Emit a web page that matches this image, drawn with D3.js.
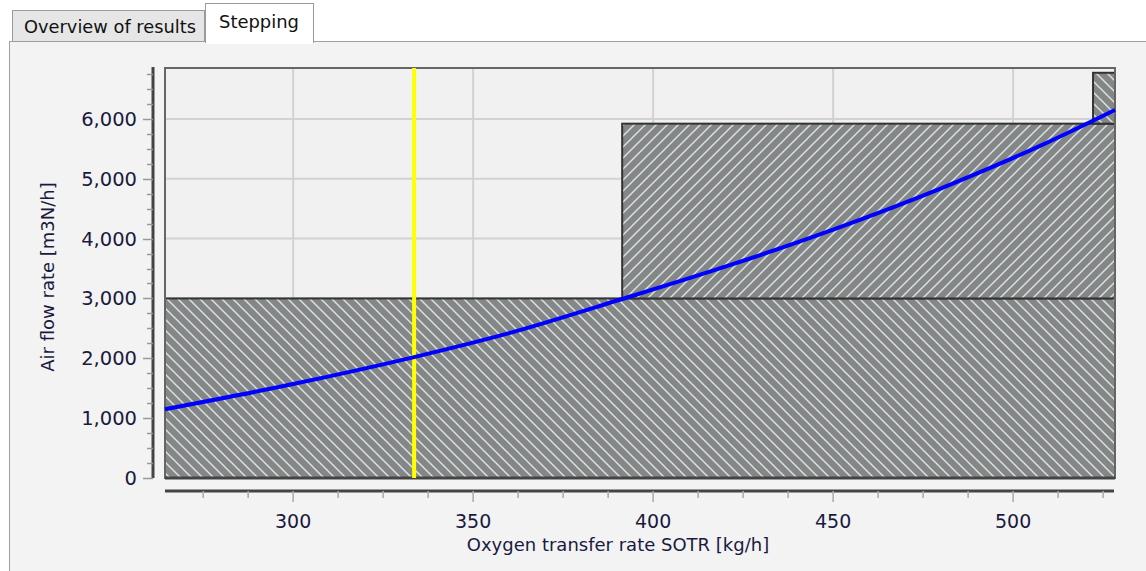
<!DOCTYPE html>
<html><head><meta charset="utf-8">
<script src="https://cdn.jsdelivr.net/npm/d3@7"></script>
<style>
html,body{margin:0;padding:0;background:#fff;}
svg{display:block;font-family:"DejaVu Sans",Verdana,sans-serif;}
</style></head>
<body>
<svg id="c" width="1146" height="571"></svg>
<script>
// ---- data ----
const xTicks = [300, 350, 400, 450, 500];
const yTicks = [0, 1000, 2000, 3000, 4000, 5000, 6000];
const xDomain = [264.4, 528.3];
const yDomain = [0, 6850];
// stepping blocks
const stepStart = [264.4, 391.4, 522.2];
const stepEnd   = [528.3, 528.3, 528.3];
const stepLow   = [0, 3000, 5920];
const stepHigh  = [3000, 5920, 6770];
// air flow curve
const curveX = [264.4, 300, 333.6, 360, 391.4, 420, 450, 480, 507.5, 528.3];
const curveY = [1150, 1570, 2020, 2420, 2990, 3530, 4150, 4840, 5550, 6150];
const markerX = 333.6;
const tabs = ["Overview of results", "Stepping"];
const xLabel = "Oxygen transfer rate SOTR [kg/h]";
const yLabel = "Air flow rate [m3N/h]";

const svg = d3.select("#c");
const L = 165, R = 1115, T = 68, B = 478;
const x = d3.scaleLinear().domain(xDomain).range([L, R]);
const y = d3.scaleLinear().domain(yDomain).range([B, T]);

// tabs & panel
svg.append("rect").attr("x", 9.5).attr("y", 41.5).attr("width", 1140).attr("height", 540)
  .attr("fill", "#f3f3f3").attr("stroke", "#a0a0a0");
svg.append("rect").attr("x", 12.5).attr("y", 10.5).attr("width", 192).attr("height", 31)
  .attr("fill", "#e6e6e6").attr("stroke", "#9a9a9a");
svg.append("rect").attr("x", 205.5).attr("y", 3.5).attr("width", 108).attr("height", 39)
  .attr("fill", "#ffffff").attr("stroke", "#9a9a9a");
svg.append("rect").attr("x", 206).attr("y", 40).attr("width", 107).attr("height", 4).attr("fill", "#fff");
svg.append("text").attr("x", 110).attr("y", 33).attr("text-anchor", "middle")
  .attr("font-size", 18).attr("fill", "#111").attr("textLength", 172).attr("lengthAdjust","spacingAndGlyphs").text(tabs[0]);
svg.append("text").attr("x", 259).attr("y", 28).attr("text-anchor", "middle")
  .attr("font-size", 18).attr("fill", "#111").attr("textLength", 80).attr("lengthAdjust","spacingAndGlyphs").text(tabs[1]);

// hatch patterns (alternating direction)
const defs = svg.append("defs");
const hs = 11;
[["hatchB", `M0,0L${hs},${hs}M${-hs/2},${hs/2}L${hs/2},${hs*1.5}M${hs/2},${-hs/2}L${hs*1.5},${hs/2}`],
 ["hatchF", `M0,${hs}L${hs},0M${-hs/2},${hs/2}L${hs/2},${-hs/2}M${hs/2},${hs*1.5}L${hs*1.5},${hs/2}`]]
.forEach(([id, d]) => {
  const pat = defs.append("pattern").attr("id", id).attr("patternUnits", "userSpaceOnUse")
    .attr("width", hs).attr("height", hs);
  pat.append("rect").attr("width", hs).attr("height", hs).attr("fill", "#868686");
  pat.append("path").attr("d", d).attr("stroke", "#d2e4e4").attr("stroke-width", 1.5);
});

// plot background
svg.append("rect").attr("x", L).attr("y", T).attr("width", R - L).attr("height", B - T).attr("fill", "#f1f1f1");

// grid
svg.append("g").selectAll("line").data(xTicks).join("line")
  .attr("x1", d => x(d)).attr("x2", d => x(d)).attr("y1", T).attr("y2", B)
  .attr("stroke", "#d2d2d2").attr("stroke-width", 2);
svg.append("g").selectAll("line").data(yTicks.filter(d => d > 0)).join("line")
  .attr("x1", L).attr("x2", R).attr("y1", d => y(d)).attr("y2", d => y(d))
  .attr("stroke", "#d2d2d2").attr("stroke-width", 2);

// steps
svg.append("g").selectAll("rect").data(stepStart.map((s, i) => i)).join("rect")
  .attr("x", i => x(stepStart[i])).attr("width", i => x(stepEnd[i]) - x(stepStart[i]))
  .attr("y", i => y(stepHigh[i])).attr("height", i => y(stepLow[i]) - y(stepHigh[i]))
  .attr("fill", i => i % 2 ? "url(#hatchF)" : "url(#hatchB)").attr("stroke", "#333").attr("stroke-width", 2);

// plot border
svg.append("rect").attr("x", L).attr("y", T).attr("width", R - L).attr("height", B - T)
  .attr("fill", "none").attr("stroke", "#666").attr("stroke-width", 2);
svg.append("line").attr("x1", L).attr("x2", R).attr("y1", B).attr("y2", B).attr("stroke", "#444").attr("stroke-width", 3);

// marker line
svg.append("line").attr("x1", x(markerX)).attr("x2", x(markerX)).attr("y1", T).attr("y2", B)
  .attr("stroke", "#ffff00").attr("stroke-width", 4);

// curve
const line = d3.line().x(d => x(d[0])).y(d => y(d[1])).curve(d3.curveMonotoneX);
svg.append("path").datum(curveX.map((v, i) => [v, curveY[i]])).attr("d", line)
  .attr("fill", "none").attr("stroke", "#0000ff").attr("stroke-width", 4);

// y axis
const yAxisX = 153;
svg.append("line").attr("x1", yAxisX).attr("x2", yAxisX).attr("y1", T - 1).attr("y2", B)
  .attr("stroke", "#444").attr("stroke-width", 3);
const yMinor = d3.range(0, 6751, 250);
svg.append("g").selectAll("line").data(yMinor).join("line")
  .attr("x1", d => d % 1000 === 0 ? 143 : 147).attr("x2", yAxisX)
  .attr("y1", d => Math.round(y(d)) + 0.5).attr("y2", d => Math.round(y(d)) + 0.5)
  .attr("stroke", "#999").attr("stroke-width", 1.5);
svg.append("g").selectAll("text").data(yTicks).join("text")
  .attr("x", 137).attr("y", d => y(d) + 7).attr("text-anchor", "end")
  .attr("font-size", 19.5).attr("fill", "#1a1a40").text(d => d3.format(",")(d));

// x axis
const xAxisY = 491;
svg.append("line").attr("x1", L).attr("x2", R - 1).attr("y1", xAxisY).attr("y2", xAxisY)
  .attr("stroke", "#444").attr("stroke-width", 3);
const xMinor = d3.range(275, 528, 12.5);
svg.append("g").selectAll("line").data(xMinor).join("line")
  .attr("x1", d => x(d)).attr("x2", d => x(d))
  .attr("y1", xAxisY).attr("y2", d => d % 50 === 0 ? 502 : 498)
  .attr("stroke", "#aaa").attr("stroke-width", 1.5);
svg.append("g").selectAll("text").data(xTicks).join("text")
  .attr("x", d => x(d)).attr("y", 528).attr("text-anchor", "middle")
  .attr("font-size", 19).attr("fill", "#1a1a40").text(d => d);

// labels
svg.append("text").attr("x", 618).attr("y", 551).attr("text-anchor", "middle")
  .attr("font-size", 18).attr("fill", "#1a1a40").text(xLabel);
svg.append("text").attr("transform", "translate(54,277) rotate(-90)").attr("text-anchor", "middle")
  .attr("font-size", 18).attr("fill", "#1a1a40").text(yLabel);
</script>
</body></html>
